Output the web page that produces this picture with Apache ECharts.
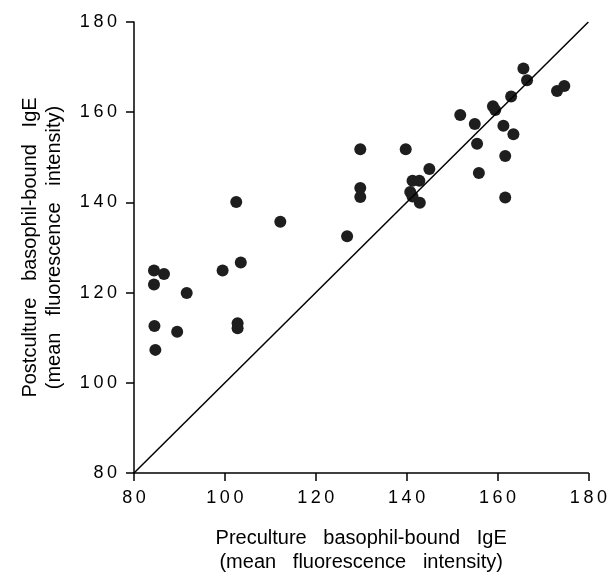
<!DOCTYPE html>
<html>
<head>
<meta charset="utf-8">
<script src="https://cdn.jsdelivr.net/npm/echarts@6/dist/echarts.min.js"></script>
<style>
  html, body { margin: 0; padding: 0; background: #fff; }
  #main { width: 610px; height: 587px; }
</style>
</head>
<body>
<div id="main"></div>
<script>
// preculture (x) vs postculture (y) mean fluorescence intensity
var preculture = [84.4, 86.6, 84.4, 84.5, 84.7, 89.5, 91.6, 99.5, 103.5, 102.5,
    102.8, 102.8, 112.2, 126.9, 129.8, 129.8, 129.8, 139.8, 145.0, 141.3,
    142.8, 140.8, 141.3, 142.9, 151.8, 155.0, 155.5, 155.9, 159.0, 159.5,
    161.3, 161.7, 161.7, 163.5, 163.0, 165.7, 166.5, 173.1, 174.7];
var postculture = [124.9, 124.1, 121.8, 112.6, 107.3, 111.3, 119.9, 124.9, 126.7, 140.1,
    113.2, 112.1, 135.7, 132.5, 151.8, 143.2, 141.2, 151.8, 147.4, 144.8,
    144.8, 142.3, 141.3, 139.9, 159.4, 157.4, 153.0, 146.5, 161.3, 160.5,
    157.0, 150.3, 141.1, 155.1, 163.5, 169.7, 167.1, 164.7, 165.8];
var identityLine = [80, 180];
var ticks = [80, 100, 120, 140, 160, 180];

var dom = document.getElementById("main");
var myChart = echarts.init(dom);

var points = [];
for (var i = 0; i < preculture.length; i++) {
    points.push([preculture[i], postculture[i]]);
}

function spaced(v) {
    return String(v).split('').join('\u2009');
}

var axisCommon = {
    type: 'value',
    min: ticks[0],
    max: ticks[ticks.length - 1],
    interval: 20,
    nameLocation: 'middle',
    axisLine: { show: true, onZero: false, lineStyle: { color: '#000', width: 1.5 } },
    axisTick: { show: true, length: 8, lineStyle: { color: '#000', width: 1.5 } },
    splitLine: { show: false },
    axisLabel: {
        color: '#000',
        fontSize: 18,
        fontFamily: 'Liberation Sans',
        formatter: spaced
    },
    nameTextStyle: {
        color: '#000',
        fontSize: 20,
        fontFamily: 'Liberation Sans',
        lineHeight: 24
    }
};

option = {
    backgroundColor: '#fff',
    animation: false,
    grid: {
        left: 134,
        right: 20,
        top: 22,
        bottom: 114
    },
    xAxis: echarts.util.merge({
        name: 'Preculture   basophil-bound   IgE\n(mean   fluorescence   intensity)',
        nameGap: 53,
        axisLabel: { margin: 16 }
    }, axisCommon),
    yAxis: echarts.util.merge({
        name: 'Postculture   basophil-bound   IgE\n(mean   fluorescence   intensity)',
        nameGap: 68,
        axisLabel: { margin: 17 }
    }, axisCommon),
    series: [
        {
            type: 'line',
            data: [[identityLine[0], identityLine[0]], [identityLine[1], identityLine[1]]],
            symbol: 'none',
            lineStyle: { color: '#000', width: 1.5 },
            silent: true
        },
        {
            type: 'scatter',
            data: points,
            symbol: 'circle',
            symbolSize: 12,
            itemStyle: { color: '#1e1e1e', opacity: 1 }
        }
    ]
};
if (option && typeof option === "object") {
    myChart.setOption(option, true);
}
</script>
</body>
</html>
